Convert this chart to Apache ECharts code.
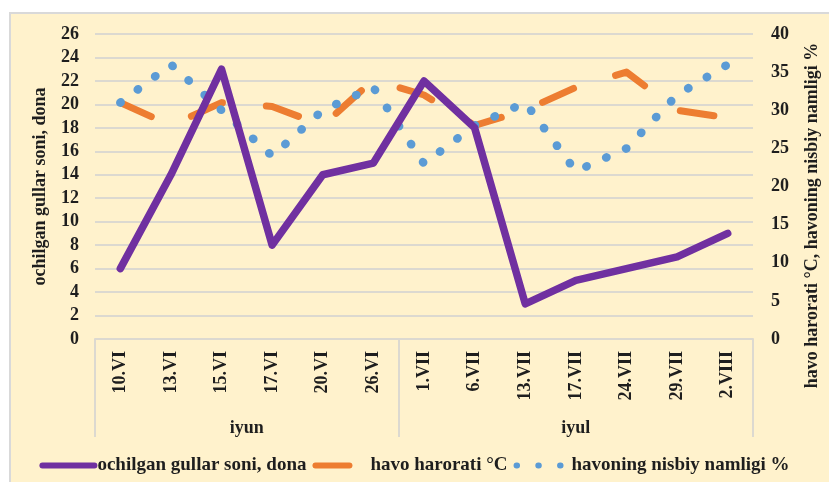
<!DOCTYPE html>
<html>
<head>
<meta charset="utf-8">
<script src="https://cdn.jsdelivr.net/npm/echarts@6/dist/echarts.min.js"></script>
<style>
html,body{margin:0;padding:0;background:#fff;}
#panel{position:absolute;left:9px;top:12px;width:840px;height:490px;background:#fff2cc;border:2px solid #d9d9d9;box-sizing:border-box;}
#chart{position:absolute;left:0;top:0;width:829px;height:482px;}
</style>
</head>
<body>
<div id="panel"></div>
<div id="chart"></div>
<script>
// ---- data ----
var categories = ['10.VI','13.VI','15.VI','17.VI','20.VI','26.VI','1.VII','6.VII','13.VII','17.VII','24.VII','29.VII','2.VIII'];
var groupNames = ['iyun','iyul'];
var groupSizes = [6, 7];
var flowers = [6, 14, 23, 8, 14, 15, 22, 18, 3, 5, 6, 7, 9];
var temperature = [31, 28, 31, 30.5, 28, 34, 32, 28, 30, 33, 35, 30, 29];
var humidity = [31, 36, 30, 24, 30, 33, 23, 28, 31, 22, 25, 32, 36];
var leftTicks = {min: 0, max: 26, interval: 2};
var rightTicks = {min: 0, max: 40, interval: 5};
var seriesNames = ['ochilgan gullar soni, dona', 'havo harorati °C', 'havoning nisbiy namligi %'];
var leftTitle = 'ochilgan gullar soni, dona';
var rightTitle = 'havo harorati °C, havoning nisbiy namligi %';

// group boundaries / centres derived from group sizes
var bounds = [0], centres = [];
(function(){
  var acc = 0;
  for (var i = 0; i < groupSizes.length; i++) {
    centres.push(acc + groupSizes[i] / 2);
    acc += groupSizes[i];
    bounds.push(acc);
  }
})();

var FONT = '"Liberation Serif", "Times New Roman", serif';
var TXT = '#1e1e1e';
var GRIDC = '#dcd9d0';

var chart = echarts.init(document.getElementById('chart'), null, {renderer: 'canvas'});
chart.setOption({
  backgroundColor: 'transparent',
  animation: false,
  textStyle: {fontFamily: FONT},
  grid: {left: 95, right: 76, top: 34, bottom: 143, containLabel: false},
  legend: {
    data: seriesNames,
    left: 'center',
    top: 451,
    itemWidth: 52,
    itemHeight: 14,
    itemGap: 6,
    itemStyle: {color: 'transparent', borderWidth: 0, opacity: 0},
    lineStyle: {width: 6, cap: 'round'},
    textStyle: {fontFamily: FONT, fontWeight: 'bold', fontSize: 19, color: TXT, padding: [0, 0, 0, -2]}
  },
  xAxis: [{
    type: 'category',
    data: categories,
    boundaryGap: true,
    axisLine: {show: true, lineStyle: {color: GRIDC, width: 2}},
    axisTick: {show: false},
    axisLabel: {rotate: 90, margin: 12, fontFamily: FONT, fontWeight: 'bold', fontSize: 18, color: TXT, interval: 0},
    splitLine: {show: false}
  }, {
    type: 'value',
    position: 'bottom',
    min: 0,
    max: categories.length,
    axisLine: {show: false},
    axisTick: {show: true, customValues: bounds, length: 98, inside: false, lineStyle: {color: GRIDC, width: 2}},
    axisLabel: {
      show: true,
      customValues: centres,
      margin: 80,
      fontFamily: FONT, fontWeight: 'bold', fontSize: 18, color: TXT,
      formatter: function (v) {
        for (var i = 0; i < centres.length; i++) if (Math.abs(centres[i] - v) < 1e-6) return groupNames[i];
        return '';
      }
    },
    splitLine: {show: false}
  }],
  yAxis: [{
    type: 'value',
    min: leftTicks.min, max: leftTicks.max, interval: leftTicks.interval,
    position: 'left',
    name: leftTitle,
    nameLocation: 'middle',
    nameRotate: 90,
    nameGap: 46,
    nameTextStyle: {fontFamily: FONT, fontWeight: 'bold', fontSize: 18, color: TXT},
    axisLine: {show: false},
    axisTick: {show: false},
    axisLabel: {margin: 16, fontFamily: FONT, fontWeight: 'bold', fontSize: 18, color: TXT},
    splitLine: {show: true, lineStyle: {color: GRIDC, width: 2}}
  }, {
    type: 'value',
    min: rightTicks.min, max: rightTicks.max, interval: rightTicks.interval,
    position: 'right',
    name: rightTitle,
    nameLocation: 'middle',
    nameRotate: 90,
    nameGap: 50,
    nameTextStyle: {fontFamily: FONT, fontWeight: 'bold', fontSize: 18, color: TXT, padding: [0, 58, 0, 0]},
    axisLine: {show: false},
    axisTick: {show: false},
    axisLabel: {margin: 18, fontFamily: FONT, fontWeight: 'bold', fontSize: 18, color: TXT},
    splitLine: {show: false}
  }],
  series: [{
    name: seriesNames[0],
    type: 'line',
    xAxisIndex: 0,
    yAxisIndex: 0,
    data: flowers,
    symbol: 'none',
    z: 3,
    lineStyle: {color: '#7030a0', width: 7.5, cap: 'round', join: 'round'},
    itemStyle: {color: '#7030a0'}
  }, {
    name: seriesNames[1],
    type: 'line',
    xAxisIndex: 0,
    yAxisIndex: 1,
    data: temperature,
    symbol: 'none',
    z: 2,
    lineStyle: {color: '#ed7d31', width: 7, type: [34, 44], cap: 'round', join: 'round'},
    itemStyle: {color: '#ed7d31'}
  }, {
    name: seriesNames[2],
    type: 'line',
    xAxisIndex: 0,
    yAxisIndex: 1,
    data: humidity,
    symbol: 'none',
    z: 2,
    lineStyle: {color: '#5b9bd5', width: 8.5, type: [0.5, 21.25], cap: 'round', join: 'round'},
    itemStyle: {color: '#5b9bd5'}
  }]
});
</script>
</body>
</html>
